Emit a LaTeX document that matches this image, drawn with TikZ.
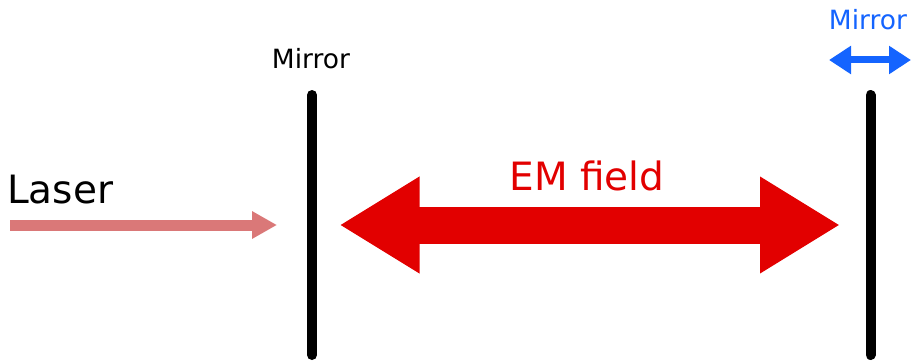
\documentclass[tikz,border=0pt]{standalone}
\usepackage{fontspec}
\setmainfont{DejaVu Sans}
\usetikzlibrary{arrows.meta}
\definecolor{laserred}{RGB}{218,120,120}
\definecolor{emred}{RGB}{226,0,0}
\definecolor{mirblue}{RGB}{20,100,255}
\begin{document}
\begin{tikzpicture}[x=1pt,y=-1pt,
  mirrorline/.style={line width=10pt,line cap=round,black},
  lbl/.style={inner sep=0pt,anchor=base}]
\useasboundingbox (0,0) rectangle (913,361);
% mirrors
\coordinate (m1t) at (312,95);
\coordinate (m1b) at (312,355);
\coordinate (m2t) at (870.5,95);
\coordinate (m2b) at (870.5,355);
\draw[mirrorline] (m1t) -- (m1b);
\draw[mirrorline] (m2t) -- (m2b);
% labels
\node[lbl,font=\fontsize{26.5}{30}\selectfont] (mirrorA) at (311,69) {Mirror};
\node[lbl,font=\fontsize{26.5}{30}\selectfont,text=mirblue] (mirrorB) at (868,30) {Mirror};
\node[lbl,anchor=base west,font=\fontsize{39}{44}\selectfont] (laser) at (7,203) {Laser};
\node[lbl,font=\fontsize{39}{44}\selectfont,text=emred] (em) at (587,190) {EM field};
% laser arrow
\coordinate (ls) at (10,225);
\coordinate (le) at (277,225);
\draw[laserred,line width=11pt,-{Triangle[length=25pt,width=26pt]}] (ls) -- (le);
% EM field arrow
\coordinate (ea) at (339.5,225);
\coordinate (eb) at (840,225);
\draw[emred,line width=37pt,{Triangle[length=80pt,width=91pt]}-{Triangle[length=80pt,width=91pt]}] (ea) -- (eb);
% blue arrow
\coordinate (ba) at (829,60);
\coordinate (bb) at (911,60);
\draw[mirblue,line width=7pt,{Triangle[length=22pt,width=27pt]}-{Triangle[length=22pt,width=27pt]}] (ba) -- (bb);
\end{tikzpicture}
\end{document}
